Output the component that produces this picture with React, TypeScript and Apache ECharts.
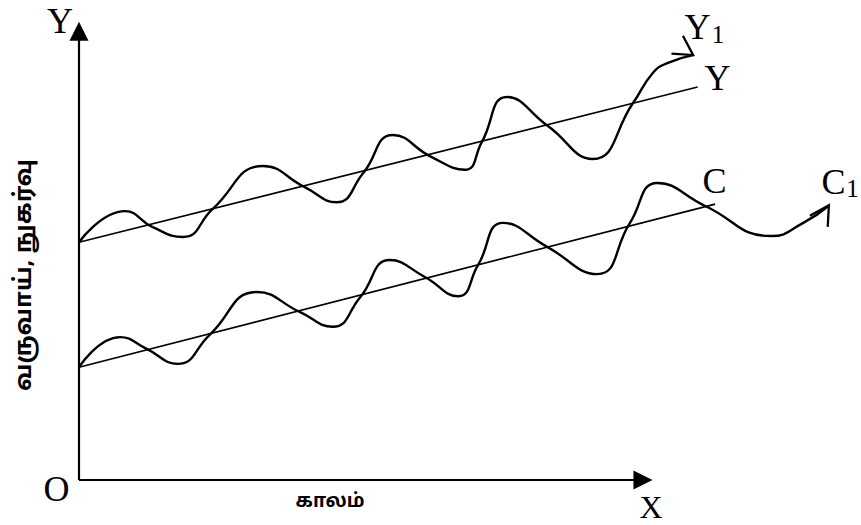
import React, { useEffect, useRef } from "react";
import * as echarts from "echarts";

// Income wave (Y1): [time, value]
const incomeWave: number[][] = [
  [0, 50.6], [6.05, 57.2], [9.7, 53.8], [13.7, 51.7], [17.6, 57.7],
  [24.2, 66.8], [29.7, 62.3], [33.9, 59.1], [37.4, 65.3], [41.3, 73.4],
  [46.4, 68.7], [50.8, 66.0], [53.0, 71.9], [56.3, 81.5], [61.7, 75.3],
  [67.6, 68.3], [72.9, 80.2], [75.5, 86.6], [77.4, 88.7], [80.8, 90.4],
];
// Income trend (Y)
const incomeTrend: number[][] = [[0, 50.6], [81.4, 83.6]];

// Consumption wave (C1)
const consumptionWave: number[][] = [
  [0, 24.0], [5.4, 30.4], [8.9, 27.9], [13.0, 24.7], [17.2, 30.9],
  [23.4, 40.0], [29.1, 35.7], [33.4, 32.6], [37.0, 38.9], [40.9, 46.8],
  [45.5, 43.2], [49.9, 39.1], [52.5, 45.7], [55.8, 54.7], [61.6, 49.6],
  [68.2, 43.8], [72.5, 54.7], [76.1, 63.2], [82.4, 58.3], [91.1, 51.9],
  [95.3, 54.7], [98.6, 58.3],
];
// Consumption trend (C)
const consumptionTrend: number[][] = [[0, 24.0], [83.7, 58.7]];

// Axis extents (arrow bases)
const timeAxisEnd = 74.2;
const valueAxisEnd = 95.5;

// Labels
const axisLabels = { y: "Y", origin: "O", x: "X" };
const xAxisTitle = "காலம்";
const yAxisTitle = "வருவாய், நுகர்வு";
const curveLabels = { incomeWave: "Y", incomeTrend: "Y", consumptionTrend: "C", consumptionWave: "C" };
const subscript = "1";

const SERIF = '"Liberation Serif", "Times New Roman", serif';
const TAMIL = '"Noto Sans Tamil", "Lohit Tamil", "Noto Sans", "DejaVu Sans", sans-serif';
const OPEN_ARROW = "path://M0,19 L10.5,0 L21,19";

function withArrowEnd(points: number[][], rotate: number, offset: number[]) {
  return points.map((p, i) =>
    i === points.length - 1
      ? {
          value: p,
          symbol: OPEN_ARROW,
          symbolSize: [21, 19],
          symbolRotate: rotate,
          symbolOffset: offset,
          itemStyle: { color: "none", borderColor: "#000", borderWidth: 2.2 },
        }
      : { value: p }
  );
}

function serifText(text: string, x: number, y: number, size = 36) {
  return {
    type: "text",
    x,
    y,
    silent: true,
    style: {
      text,
      fill: "#000",
      fontFamily: SERIF,
      fontSize: size,
      align: "center",
      verticalAlign: "middle",
    },
  };
}

export default function App() {
  const ref = useRef<HTMLDivElement>(null);
  useEffect(() => {
    if (!ref.current) return;
    const chart = echarts.init(ref.current, undefined, { renderer: "svg" });
    const option: any = {
      animation: false,
      backgroundColor: "#ffffff",
      grid: { left: 79, right: 22, top: 10, bottom: 45 },
      xAxis: { type: "value", min: 0, max: 100, show: false },
      yAxis: { type: "value", min: 0, max: 100, show: false },
      series: [
        {
          name: "Y",
          type: "line",
          data: incomeTrend,
          symbol: "none",
          silent: true,
          lineStyle: { color: "#000", width: 1.6 },
          markLine: {
            silent: true,
            symbol: ["none", "triangle"],
            symbolSize: 19,
            lineStyle: { color: "#000", width: 2.2, type: "solid" },
            label: { show: false },
            emphasis: { disabled: true },
            data: [
              [{ coord: [0, 0] }, { coord: [timeAxisEnd, 0] }],
              [{ coord: [0, 0] }, { coord: [0, valueAxisEnd] }],
            ],
          },
        },
        {
          name: "C",
          type: "line",
          data: consumptionTrend,
          symbol: "none",
          silent: true,
          lineStyle: { color: "#000", width: 1.6 },
        },
        {
          name: "Y1",
          type: "line",
          data: withArrowEnd(incomeWave, -123, [-7.9, -5.2]),
          smooth: 0.5,
          symbol: "none",
          showSymbol: true,
          silent: true,
          itemStyle: { color: "#000" },
          lineStyle: { color: "#000", width: 2.4 },
        },
        {
          name: "C1",
          type: "line",
          data: withArrowEnd(consumptionWave, -32, [-4.5, 7.2]),
          smooth: 0.5,
          symbol: "none",
          showSymbol: true,
          silent: true,
          itemStyle: { color: "#000" },
          lineStyle: { color: "#000", width: 2.4 },
        },
      ],
      graphic: [
        serifText(axisLabels.y, 60, 21),
        serifText(axisLabels.origin, 56.5, 489),
        serifText(axisLabels.x, 651, 507, 32),
        serifText(curveLabels.incomeWave, 697.5, 27),
        serifText(subscript, 718, 34, 25),
        serifText(curveLabels.incomeTrend, 717.5, 78),
        serifText(curveLabels.consumptionTrend, 714.5, 181),
        serifText(curveLabels.consumptionWave, 833.5, 182),
        serifText(subscript, 852.5, 188, 25),
        {
          type: "text",
          x: 330,
          y: 502,
          silent: true,
          style: {
            text: xAxisTitle,
            fill: "#000",
            fontFamily: TAMIL,
            fontWeight: "bold",
            fontSize: 19,
            align: "center",
            verticalAlign: "middle",
          },
        },
        {
          type: "text",
          x: 25,
          y: 275,
          rotation: Math.PI / 2,
          silent: true,
          style: {
            text: yAxisTitle,
            fill: "#000",
            fontFamily: TAMIL,
            fontWeight: "bold",
            fontSize: 24,
            align: "center",
            verticalAlign: "middle",
          },
        },
      ],
    };
    chart.setOption(option);
    return () => chart.dispose();
  }, []);
  return (
    <div
      ref={ref}
      style={{ position: "absolute", left: 0, top: 0, width: 861, height: 525, background: "#fff" }}
    />
  );
}
